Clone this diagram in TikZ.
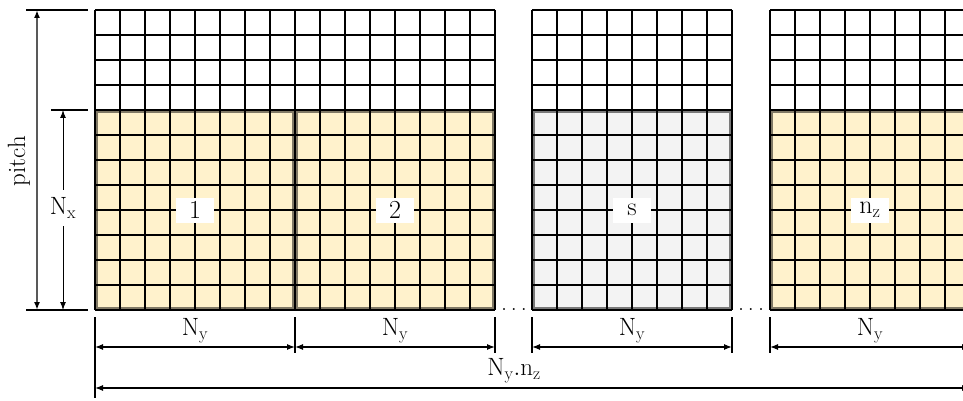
\documentclass[tikz,border=0pt]{standalone}
\usepackage{fontspec}
\usetikzlibrary{arrows.meta}
\definecolor{cream}{RGB}{255,242,204}
\definecolor{lgray}{RGB}{243,243,243}
\begin{document}
\begin{tikzpicture}[x=1pt,y=-1pt,
  gridline/.style={black,line width=1.2pt},
  tick/.style={black,line width=2.4pt},
  dimarrow/.style={line width=1.2pt,black,{Latex[length=8pt,width=6pt]}-{Latex[length=8pt,width=6pt]}},
  pitcharrow/.style={line width=1.6pt,black!65,{Latex[length=8pt,width=6pt,fill=black,color=black]}-{Latex[length=8pt,width=6pt,fill=black,color=black]}},
  labelbox/.style={fill=white,minimum width=38pt,minimum height=25pt,inner sep=0pt,font=\fontsize{26}{30}\selectfont},
  dimlabel/.style={font=\fontsize{25}{30}\selectfont,inner sep=1pt}]
\useasboundingbox (0,0) rectangle (963,401);
\clip (0,0) rectangle (963,401);
% coloured blocks
\foreach \x/\c in {95/cream,295/cream,532/lgray,770/cream}{
  \fill[\c] (\x,110) rectangle ++(200,200);
  \draw[\c!50!black,line width=2pt] (\x+2,112) rectangle ++(196,196);
}
% grids
\foreach \x/\n in {95/16,532/8,770/8}{
  \foreach \i in {0,...,\n} \draw[gridline] (\x+\i*25,10) -- (\x+\i*25,310);
  \foreach \j in {0,...,12} \draw[gridline] (\x,10+\j*25) -- (\x+\n*25,10+\j*25);
}
% block labels
\node[labelbox] (b1) at (195,210) {1};
\node[labelbox] (b2) at (395,210) {2};
\node[labelbox] (bs) at (632,210) {s};
\node[labelbox] (bn) at (870,210) {$\mathrm{n}_\mathrm{z}$};
% dots
\node[anchor=base,inner sep=0pt,font=\fontsize{24}{28}\selectfont] (d1) at (514,310) {.\,.\,.};
\node[anchor=base,inner sep=0pt,font=\fontsize{24}{28}\selectfont] (d2) at (751,310) {.\,.\,.};
% left dimensions
\coordinate (l1a) at (26,10);  \coordinate (l1b) at (88,10);
\coordinate (l2a) at (51,110); \coordinate (l2b) at (88,110);
\coordinate (l3a) at (26,310); \coordinate (l3b) at (88,310);
\draw[tick] (l1a) -- (l1b);
\draw[tick] (l2a) -- (l2b);
\draw[tick] (l3a) -- (l3b);
\coordinate (pt) at (37,10); \coordinate (pb) at (37,310);
\draw[pitcharrow] (pt) -- (pb);
\node[dimlabel,rotate=90] (pitch) at (19,161) {pitch};
\coordinate (nxt) at (63,110); \coordinate (nxb) at (63,310);
\draw[dimarrow,line width=1pt] (nxt) -- (nxb);
\node[dimlabel,fill=white,inner ysep=8pt] (nx) at (63,208) {$\mathrm{N}_\mathrm{x}$};
% bottom ticks
\coordinate (v0a) at (95,317); \coordinate (v0b) at (95,398);
\draw[tick] (v0a) -- (v0b);
\foreach \x/\nm in {295/a,495/b,532/c,732/d,770/e,970/f}{
  \coordinate (v\nm a) at (\x,317); \coordinate (v\nm b) at (\x,353);
  \draw[tick] (v\nm a) -- (v\nm b);
}
% N_y arrows
\coordinate (a0) at (95,347); \coordinate (a1) at (295,347);
\coordinate (a2) at (495,347); \coordinate (a3) at (532,347);
\coordinate (a4) at (732,347); \coordinate (a5) at (770,347);
\coordinate (a6) at (970,347);
\draw[dimarrow] (a0) -- (a1);
\draw[dimarrow] (a1) -- (a2);
\draw[dimarrow] (a3) -- (a4);
\draw[dimarrow] (a5) -- (a6);
\node[dimlabel] (ny1) at (195,331) {$\mathrm{N}_\mathrm{y}$};
\node[dimlabel] (ny2) at (395,331) {$\mathrm{N}_\mathrm{y}$};
\node[dimlabel] (ny3) at (632,331) {$\mathrm{N}_\mathrm{y}$};
\node[dimlabel] (ny4) at (870,331) {$\mathrm{N}_\mathrm{y}$};
% total
\coordinate (ta) at (95,388); \coordinate (tb) at (970,388);
\draw[dimarrow] (ta) -- (tb);
\node[dimlabel] (tot) at (514,371) {$\mathrm{N}_\mathrm{y}\mathrm{.n}_\mathrm{z}$};
\end{tikzpicture}
\end{document}
